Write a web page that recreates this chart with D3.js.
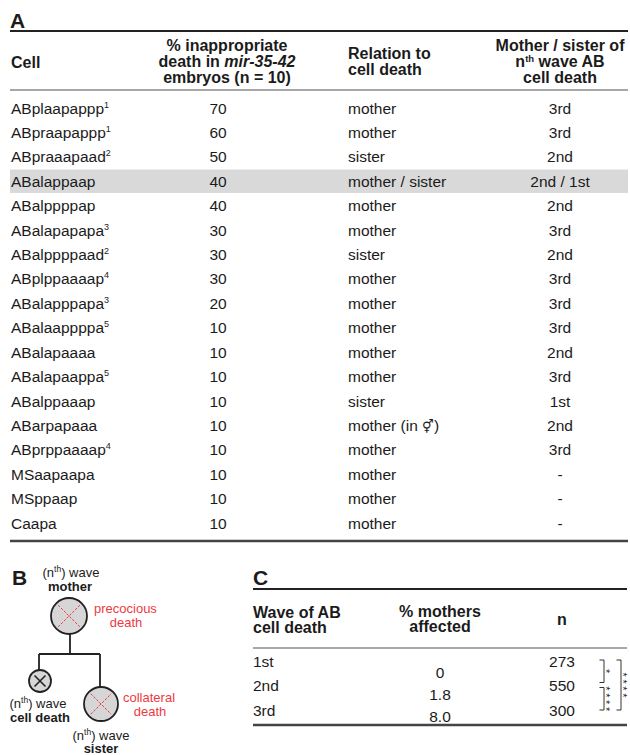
<!DOCTYPE html>
<html>
<head>
<meta charset="utf-8">
<script src="https://cdn.jsdelivr.net/npm/d3@7"></script>
<style>
  body { margin: 0; background: #fff; }
  svg { display: block; }
</style>
</head>
<body>
<script>
// table A data
var cells = ['ABplaapappp','ABpraapappp','ABpraaapaad','ABalappaap','ABalppppap','ABalapapapa','ABalppppaad','ABplppaaaap','ABalapppapa','ABalaappppa','ABalapaaaa','ABalapaappa','ABalppaaap','ABarpapaaa','ABprppaaaap','MSaapaapa','MSppaap','Caapa'];
var footnotes = ['1','1','2','','','3','2','4','3','5','','5','','','4','','',''];
var pctDeath = [70,60,50,40,40,30,30,30,20,10,10,10,10,10,10,10,10,10];
var relation = ['mother','mother','sister','mother / sister','mother','mother','sister','mother','mother','mother','mother','mother','sister','mother (in \u26A5)','mother','mother','mother','mother'];
var waveOf = ['3rd','3rd','2nd','2nd / 1st','2nd','3rd','2nd','3rd','3rd','3rd','2nd','3rd','1st','2nd','3rd','-','-','-'];
var highlighted = ['ABalappaap'];

// table C data
var waves = ['1st','2nd','3rd'];
var pctMothers = [0, 1.8, 8.0];
var nCounts = [273, 550, 300];
var sigPairs = [{a:0, b:1, label:'*'}, {a:1, b:2, label:'****'}, {a:0, b:2, label:'****'}];

var W = 630, H = 755;
var ink = '#1b1b1b', red = '#ee3a3f';
var bodySize = 15.5, headSize = 16;

var svg = d3.select('body').append('svg')
    .attr('width', W).attr('height', H)
    .style('font-family', '"Liberation Sans", Arial, Helvetica, sans-serif')
    .attr('fill', ink);

function rule(g, x1, x2, y, w, col){
    g.append('line').attr('x1', x1).attr('x2', x2).attr('y1', y).attr('y2', y)
        .attr('stroke', col).attr('stroke-width', w);
}

// ---------- panel A ----------
var A = svg.append('g').attr('class', 'panel-a');
A.append('text').attr('x', 10).attr('y', 28).text('A')
    .style('font-size', '21px').style('font-weight', 'bold');
rule(A, 10, 628, 31, 2, '#222');
rule(A, 10, 628, 90, 1.3, '#8a8a8a');
rule(A, 10, 628, 541, 2.4, '#444');

var col = {cell: 11, pctHead: 227, pct: 218, rel: 348, wave: 560};

var head = A.append('g').style('font-size', headSize + 'px').style('font-weight', 'bold');
head.append('text').attr('x', col.cell).attr('y', 68).text('Cell');
var h2 = head.append('g').attr('text-anchor', 'middle');
h2.append('text').attr('x', col.pctHead).attr('y', 51).text('% inappropriate');
var t = h2.append('text').attr('x', col.pctHead).attr('y', 67);
t.append('tspan').text('death in ');
t.append('tspan').style('font-style', 'italic').text('mir-35-42');
h2.append('text').attr('x', col.pctHead).attr('y', 83).text('embryos (n = 10)');
head.append('text').attr('x', col.rel).attr('y', 59).text('Relation to');
head.append('text').attr('x', col.rel).attr('y', 75).text('cell death');
var h4 = head.append('g').attr('text-anchor', 'middle');
h4.append('text').attr('x', col.wave).attr('y', 51).text('Mother / sister of');
t = h4.append('text').attr('x', col.wave).attr('y', 67);
t.append('tspan').text('n');
t.append('tspan').attr('dy', -5).style('font-size', '9.5px').text('th');
t.append('tspan').attr('dy', 5).text(' wave AB');
h4.append('text').attr('x', col.wave).attr('y', 83).text('cell death');

var y = d3.scalePoint().domain(d3.range(cells.length)).range([108, 523]);
var step = y.step();

var rows = A.selectAll('g.row').data(cells).join('g')
    .attr('class', 'row')
    .attr('transform', function(d, i){ return 'translate(0,' + y(i) + ')'; })
    .style('font-size', bodySize + 'px');

rows.filter(function(d){ return highlighted.indexOf(d) >= 0; })
    .append('rect')
    .attr('x', 10).attr('width', 618)
    .attr('y', -step / 2 + 0.5).attr('height', step - 1)
    .attr('fill', '#d9d9d9');

rows.append('text').attr('x', col.cell).attr('dy', '0.36em')
    .each(function(d, i){
        var s = d3.select(this);
        s.append('tspan').text(d);
        if (footnotes[i]) {
            s.append('tspan').attr('dy', -6).style('font-size', '9px').text(footnotes[i]);
        }
    });
rows.append('text').attr('x', col.pct).attr('dy', '0.36em').attr('text-anchor', 'middle')
    .text(function(d, i){ return pctDeath[i]; });
rows.append('text').attr('x', col.rel).attr('dy', '0.36em')
    .each(function(d, i){
        var s = d3.select(this), r = relation[i];
        var k = r.indexOf('\u26A5');
        if (k < 0) { s.text(r); return; }
        s.append('tspan').text(r.slice(0, k));
        s.append('tspan').style('font-size', '13px').text(r.slice(k, k + 1));
        s.append('tspan').text(r.slice(k + 1));
    });
rows.append('text').attr('x', col.wave).attr('dy', '0.36em').attr('text-anchor', 'middle')
    .text(function(d, i){ return waveOf[i]; });

// ---------- panel B ----------
var B = svg.append('g').attr('class', 'panel-b').style('font-size', '13px');
B.append('text').attr('x', 12).attr('y', 585).text('B')
    .style('font-size', '21px').style('font-weight', 'bold');

function nthWave(g, x, yy){
    var tt = g.append('text').attr('x', x).attr('y', yy).attr('text-anchor', 'middle');
    tt.append('tspan').text('(n');
    tt.append('tspan').attr('dy', -5).style('font-size', '8.5px').text('th');
    tt.append('tspan').attr('dy', 5).text(') wave');
}
function cellCircle(g, cx, cy, r, kind){
    g.append('circle').attr('cx', cx).attr('cy', cy).attr('r', r)
        .attr('fill', '#d6d6d6').attr('stroke', '#222').attr('stroke-width', 1.8);
    var k = kind == 'dead' ? r * 0.5 : r * 0.6;
    [[-1, -1, 1, 1], [-1, 1, 1, -1]].forEach(function(p){
        g.append('line')
            .attr('x1', cx + p[0] * k).attr('y1', cy + p[1] * k)
            .attr('x2', cx + p[2] * k).attr('y2', cy + p[3] * k)
            .attr('stroke', kind == 'dead' ? '#222' : red)
            .attr('stroke-width', kind == 'dead' ? 1.6 : 1)
            .attr('stroke-dasharray', kind == 'dead' ? null : '2.5,1.5');
    });
}

nthWave(B, 71, 577);
B.append('text').attr('x', 70).attr('y', 591).attr('text-anchor', 'middle')
    .style('font-weight', 'bold').text('mother');
cellCircle(B, 69, 616, 18, 'precocious');
B.append('text').attr('x', 94).attr('y', 613).attr('fill', red).text('precocious');
B.append('text').attr('x', 126).attr('y', 627).attr('fill', red).attr('text-anchor', 'middle').text('death');

B.append('path')
    .attr('d', 'M70,634V654M39,654H100M39,654V670M100,654V687')
    .attr('fill', 'none').attr('stroke', '#222').attr('stroke-width', 1.8);

cellCircle(B, 40, 681, 11, 'dead');
nthWave(B, 38, 708);
B.append('text').attr('x', 40).attr('y', 722).attr('text-anchor', 'middle')
    .style('font-weight', 'bold').text('cell death');

cellCircle(B, 101, 704, 17, 'collateral');
B.append('text').attr('x', 123).attr('y', 702).attr('fill', red).text('collateral');
B.append('text').attr('x', 150).attr('y', 716).attr('fill', red).attr('text-anchor', 'middle').text('death');
nthWave(B, 101, 740);
B.append('text').attr('x', 101).attr('y', 753).attr('text-anchor', 'middle')
    .style('font-weight', 'bold').text('sister');

// ---------- panel C ----------
var C = svg.append('g').attr('class', 'panel-c');
C.append('text').attr('x', 253).attr('y', 585).text('C')
    .style('font-size', '21px').style('font-weight', 'bold');
rule(C, 253, 627, 589, 2, '#222');
rule(C, 253, 627, 648, 1.3, '#8a8a8a');
rule(C, 253, 627, 725, 2.4, '#444');

var ccol = {wave: 253, pct: 440, n: 562};
var ch = C.append('g').style('font-size', headSize + 'px').style('font-weight', 'bold');
ch.append('text').attr('x', ccol.wave).attr('y', 618).text('Wave of AB');
ch.append('text').attr('x', ccol.wave).attr('y', 633).text('cell death');
ch.append('text').attr('x', ccol.pct).attr('y', 617).attr('text-anchor', 'middle').text('% mothers');
ch.append('text').attr('x', ccol.pct).attr('y', 632).attr('text-anchor', 'middle').text('affected');
ch.append('text').attr('x', ccol.n).attr('y', 625).attr('text-anchor', 'middle').text('n');

var cy = d3.scalePoint().domain(d3.range(waves.length)).range([661, 710]);
// middle column sits a little lower in the original
var cyPct = d3.scalePoint().domain(d3.range(waves.length)).range([672, 716]);
C.selectAll('text.cwave').data(waves).join('text')
    .attr('class', 'cwave')
    .attr('x', ccol.wave).attr('y', function(d, i){ return cy(i); })
    .attr('dy', '0.36em').style('font-size', bodySize + 'px')
    .text(function(d){ return d; });
C.selectAll('text.cpct').data(pctMothers).join('text')
    .attr('class', 'cpct')
    .attr('x', ccol.pct).attr('y', function(d, i){ return cyPct(i); })
    .attr('dy', '0.36em').attr('text-anchor', 'middle').style('font-size', bodySize + 'px')
    .text(function(d){ return d === 0 ? '0' : d.toFixed(1); });
C.selectAll('text.cn').data(nCounts).join('text')
    .attr('class', 'cn')
    .attr('x', ccol.n).attr('y', function(d, i){ return cy(i); })
    .attr('dy', '0.36em').attr('text-anchor', 'middle').style('font-size', bodySize + 'px')
    .text(function(d){ return d; });

// significance brackets; stars run downwards (rotated text)
var sig = C.append('g').attr('class', 'sig');
var starSize = 11;
sigPairs.forEach(function(s){
    var outer = (s.b - s.a) > 1;
    var bx = outer ? 621 : 604;
    var y1 = cy(s.a) - 1 + (s.a > 0 && !outer ? 3 : 0);
    var y2 = cy(s.b) + (outer ? 0 : (s.b < waves.length - 1 ? -3 : 0));
    sig.append('path')
        .attr('d', 'M' + (bx - 4.5) + ',' + y1 + 'H' + bx + 'V' + y2 + 'H' + (bx - 4.5))
        .attr('fill', 'none').attr('stroke', '#333').attr('stroke-width', 1);
    var my = (y1 + y2) / 2;
    var n = s.label.length;
    var spacing = n > 1 ? 2.6 : 0;
    // glyph sits high in its em box, so after rotating it lands right of the baseline
    sig.append('text')
        .attr('transform', 'translate(' + (bx + 4.5 - starSize * 0.6) + ',' + (my + spacing / 2) + ') rotate(90)')
        .attr('text-anchor', 'middle')
        .attr('letter-spacing', spacing)
        .style('font-size', starSize + 'px')
        .text(s.label);
});
</script>
</body>
</html>
